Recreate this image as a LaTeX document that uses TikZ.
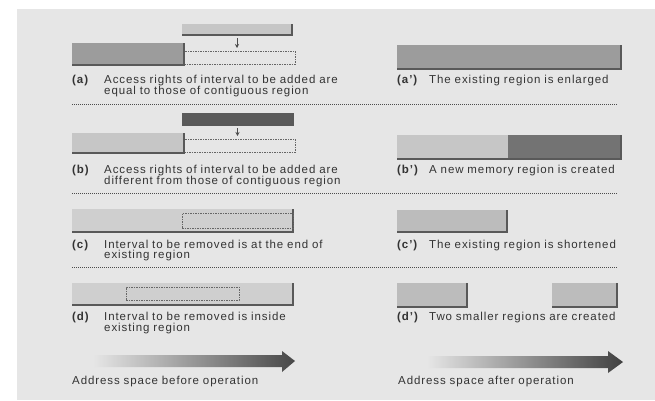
\documentclass[tikz,border=0pt]{standalone}
\usepackage{fontspec}
\setmainfont{Liberation Sans}[LetterSpace=8]
\usetikzlibrary{arrows.meta}
\definecolor{bg}{HTML}{E6E6E6}
\definecolor{txt}{HTML}{333333}
\definecolor{lightbar}{HTML}{C6C6C6}
\definecolor{midbar}{HTML}{9C9C9C}
\definecolor{darkbar}{HTML}{5A5A5A}
\newcommand\bshadow[1]{\draw[baredge] (#1.north east) -- (#1.south east) -- (#1.south west);}
\begin{document}
\begin{tikzpicture}[x=1pt,y=-1pt,
  bar/.style={anchor=north west, inner sep=0pt, outer sep=0pt, draw=none},
  baredge/.style={draw=black!65, line width=1.3pt},
  ghost/.style={anchor=north west, inner sep=0pt, outer sep=0pt, draw=black!60, line width=0.5pt, dash pattern=on 1.5pt off 1pt},
  sep/.style={draw=black!70, line width=0.7pt, dash pattern=on 1pt off 1pt},
  lab/.style={anchor=base west, inner sep=0pt, text=txt, font=\fontsize{11.5}{10.7}\selectfont\bfseries},
  desc/.style={anchor=base west, inner sep=0pt, text=txt, font=\fontsize{11.5}{10.7}\selectfont, align=left, text width=260pt},
  down/.style={-{Stealth[length=4pt,width=4pt]}, draw=black!70, line width=0.7pt, shorten <=3pt, shorten >=3pt}
]
\useasboundingbox (0,0) rectangle (655,400);
\fill[white] (0,0) rectangle (655,400);
\fill[bg] (17,9) rectangle (655,400);

% ---- (a)
\node[bar, fill=lightbar, minimum width=110pt, minimum height=11pt] (aT) at (182,24) {};
\node[bar, fill=midbar, minimum width=112pt, minimum height=22pt] (aL) at (72,43) {};
\node[ghost, minimum width=111pt, minimum height=13pt] (aD) at (184,51) {};
\bshadow{aT}\bshadow{aL}
\draw[down] (aT.south) -- (aT.south |- aD.north);
\node[lab] (aLab) at (72,83) {(a)};
\node[desc] (aTxt) at (104,83) {Access rights of interval to be added are\\equal to those of contiguous region};
% ---- (a')
\node[bar, fill=midbar, minimum width=224pt, minimum height=24pt] (ap) at (397,45) {};
\bshadow{ap}
\node[lab] (apLab) at (397,83.5) {(a')};
\node[desc] (apTxt) at (429,83.5) {The existing region is enlarged};

\draw[sep] (72,104) -- (617,104);

% ---- (b)
\node[bar, fill=darkbar, minimum width=111pt, minimum height=12pt] (bT) at (182,113) {};
\node[bar, fill=lightbar, minimum width=112pt, minimum height=20pt] (bL) at (72,133) {};
\node[ghost, minimum width=111pt, minimum height=13pt] (bD) at (184,139) {};
\bshadow{bT}\bshadow{bL}
\draw[down] (bT.south) -- (bT.south |- bD.north);
\node[lab] (bLab) at (72,173) {(b)};
\node[desc] (bTxt) at (104,173) {Access rights of interval to be added are\\different from those of contiguous region};
% ---- (b')
\node[bar, fill=lightbar, minimum width=111pt, minimum height=24pt] (bp1) at (397,135) {};
\node[bar, fill=darkbar!85, minimum width=113pt, minimum height=24pt] (bp2) at (508,135) {};
\draw[baredge] (bp2.north east) -- (bp2.south east) -- (bp1.south west);
\node[lab] (bpLab) at (397,173.3) {(b')};
\node[desc] (bpTxt) at (429,173.3) {A new memory region is created};

\draw[sep] (72,193.5) -- (617,193.5);

% ---- (c)
\node[bar, fill=lightbar!85!white, minimum width=221pt, minimum height=23pt] (cB) at (72,209) {};
\bshadow{cB}
\node[ghost, minimum width=111pt, minimum height=15pt] (cD) at (182,213) {};
\node[lab] (cLab) at (72,248) {(c)};
\node[desc] (cTxt) at (104,248) {Interval to be removed is at the end of\\existing region};
% ---- (c')
\node[bar, fill=lightbar!95!black, minimum width=110pt, minimum height=22pt] (cp) at (397,210) {};
\bshadow{cp}
\node[lab] (cpLab) at (397,248.3) {(c')};
\node[desc] (cpTxt) at (429,248.3) {The existing region is shortened};

\draw[sep] (72,267) -- (617,267);

% ---- (d)
\node[bar, fill=lightbar!85!white, minimum width=221pt, minimum height=22pt] (dB) at (72,283) {};
\bshadow{dB}
\node[ghost, minimum width=113pt, minimum height=13pt] (dD) at (126,287) {};
\node[lab] (dLab) at (72,320.7) {(d)};
\node[desc] (dTxt) at (104,320.7) {Interval to be removed is inside\\existing region};
% ---- (d')
\node[bar, fill=lightbar!95!black, minimum width=70pt, minimum height=24pt] (dp1) at (397,283) {};
\node[bar, fill=lightbar!95!black, minimum width=65pt, minimum height=24pt] (dp2) at (552,283) {};
\bshadow{dp1}\bshadow{dp2}
\node[lab] (dpLab) at (397,320.7) {(d')};
\node[desc] (dpTxt) at (429,320.7) {Two smaller regions are created};

% ---- address-space arrows
\shade[left color=bg, right color=black!72]
  (93,355) -- (282,355) -- (282,351) -- (295,361) -- (282,372) -- (282,367) -- (93,367) -- cycle;
\shade[left color=bg, right color=black!75]
  (427,356) -- (608,356) -- (608,351) -- (623,362) -- (608,373) -- (608,368) -- (427,368) -- cycle;
\node[desc] (before) at (72,384) {Address space before operation};
\node[desc] (after) at (398,384) {Address space after operation};
\end{tikzpicture}
\end{document}
